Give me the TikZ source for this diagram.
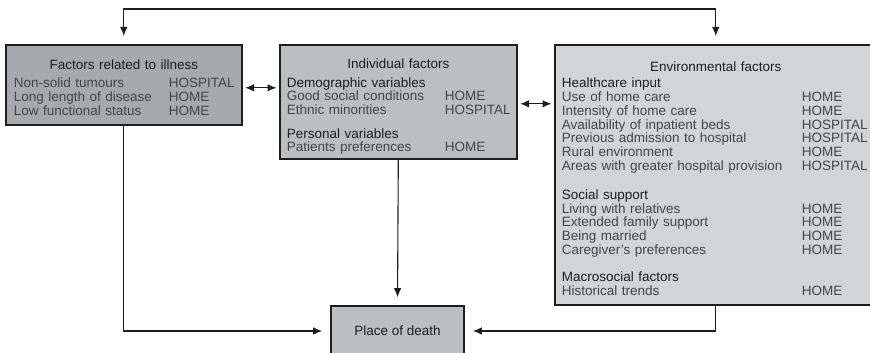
\documentclass[tikz,border=0pt]{standalone}
\usepackage{fontspec}
\setmainfont{Liberation Sans}
\usetikzlibrary{arrows.meta,calc}
\definecolor{ink}{HTML}{1E1E1E}
\definecolor{note}{HTML}{454545}
\definecolor{illfill}{HTML}{A7A9AC}
\definecolor{indfill}{HTML}{BCBEC0}
\definecolor{envfill}{HTML}{D3D4D6}

% one line of a factor box: label in a fixed column, then the verdict
\newcommand{\factor}[3]{\makebox[#1][l]{#2}#3}
\newcommand{\head}[1]{\textcolor{ink}{#1}}
% title line; the strut sets how far the block sits from the top edge
\newcommand{\boxtitle}[2][17pt]{\rule{0pt}{#1}\makebox[\linewidth][c]{\textcolor{ink}{#2}}}

\begin{document}
\begin{tikzpicture}[
  x=1pt, y=-1pt, line width=1.1pt, draw=ink, text=note,
  font=\fontsize{13.5}{13.8}\selectfont,
  factorbox/.style={draw=ink, line width=1.6pt, anchor=north west,
    inner sep=0pt, align=left},
  flow/.style={draw=ink, line width=1.1pt, -{Latex[length=9pt,width=7.5pt]},
    shorten >=8pt},
  pair/.style={draw=ink, line width=1.1pt,
    {Latex[length=9pt,width=7.5pt]}-{Latex[length=9pt,width=7.5pt]},
    shorten >=2.5pt, shorten <=2.5pt},
]
  \useasboundingbox (0,0) rectangle (870,353);

  % Three groups of factors along the top.
  \node[factorbox, fill=illfill, minimum width=236pt, minimum height=80pt,
    text width=220pt] (ill) at (5,44) {%
    \boxtitle[15pt]{Factors related to illness}\\[5pt]
    \factor{155pt}{Non-solid tumours}{HOSPITAL}\\
    \factor{155pt}{Long length of disease}{HOME}\\
    \factor{155pt}{Low functional status}{HOME}};

  \node[factorbox, fill=indfill, minimum width=237pt, minimum height=114pt,
    text width=223pt] (ind) at (279,44) {%
    \boxtitle[20pt]{Individual factors}\\[4.5pt]
    \head{Demographic variables}\\
    \factor{158pt}{Good social conditions}{HOME}\\
    \factor{158pt}{Ethnic minorities}{HOSPITAL}\\[9.5pt]
    \head{Personal variables}\\
    \factor{158pt}{Patients preferences}{HOME}};

  \node[factorbox, fill=envfill, minimum width=322pt, minimum height=260pt,
    text width=308pt] (env) at (554,44) {%
    \boxtitle[17pt]{Environmental factors}\\[2.5pt]
    \head{Healthcare input}\\
    \factor{240pt}{Use of home care}{HOME}\\
    \factor{240pt}{Intensity of home care}{HOME}\\
    \factor{240pt}{Availability of inpatient beds}{HOSPITAL}\\
    \factor{240pt}{Previous admission to hospital}{HOSPITAL}\\
    \factor{240pt}{Rural environment}{HOME}\\
    \factor{240pt}{Areas with greater hospital provision}{HOSPITAL}\\[15pt]
    \head{Social support}\\
    \factor{240pt}{Living with relatives}{HOME}\\
    \factor{240pt}{Extended family support}{HOME}\\
    \factor{240pt}{Being married}{HOME}\\
    \factor{240pt}{Caregiver's preferences}{HOME}\\[13pt]
    \head{Macrosocial factors}\\
    \factor{240pt}{Historical trends}{HOME}};

  % Outcome.
  \node[draw=ink, line width=1.6pt, fill=indfill, text=ink, minimum width=133pt,
    minimum height=50pt] (place) at (397.5,331) {Place of death};

  % Feedback loop over the top.
  \coordinate (loop) at (420,9);
  \draw[pair, shorten <=8pt, shorten >=8pt] (ill.north) |- (loop) -| (env.north);

  % Mutual influence between neighbouring groups.
  \coordinate (illside) at ([yshift=-3pt]ill.east);
  \coordinate (indside) at ([yshift=-2pt]ind.east);
  \draw[pair] (illside) -- (illside -| ind.west);
  \draw[pair] (indside) -- (indside -| env.west);

  % Everything ends in the place of death.
  \draw[flow] (ind.south) -- (place.north);
  \draw[flow] (ill.south) |- (place.west);
  \draw[flow] (env.south) |- (place.east);
\end{tikzpicture}
\end{document}
